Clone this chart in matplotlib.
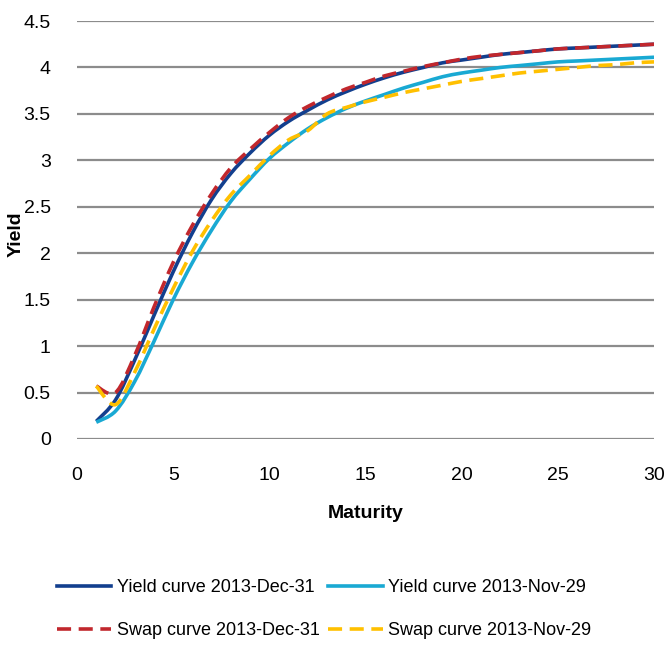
import matplotlib
matplotlib.use("Agg")
import matplotlib.pyplot as plt
import numpy as np
from matplotlib.path import Path
from matplotlib.patches import PathPatch
from matplotlib.lines import Line2D

maturity = list(range(1, 31))
yield_dec = [0.19, 0.42, 0.85, 1.33, 1.80, 2.22, 2.58, 2.86, 3.08, 3.27,
             3.42, 3.54, 3.65, 3.74, 3.82, 3.89, 3.95, 4.00, 4.05, 4.08,
             4.11, 4.14, 4.16, 4.18, 4.20, 4.21, 4.22, 4.23, 4.24, 4.25]
yield_nov = [0.18, 0.30, 0.62, 1.05, 1.50, 1.90, 2.25, 2.56, 2.80, 3.02,
             3.19, 3.34, 3.46, 3.56, 3.64, 3.71, 3.78, 3.84, 3.90, 3.94,
             3.97, 4.00, 4.02, 4.04, 4.06, 4.07, 4.08, 4.09, 4.10, 4.11]
swap_dec = [0.57, 0.50, 0.90, 1.42, 1.90, 2.30, 2.64, 2.92, 3.12, 3.30,
            3.46, 3.58, 3.68, 3.77, 3.84, 3.91, 3.96, 4.01, 4.05, 4.09,
            4.12, 4.14, 4.16, 4.18, 4.20, 4.21, 4.22, 4.23, 4.24, 4.25]
swap_nov = [0.57, 0.37, 0.72, 1.18, 1.62, 2.02, 2.35, 2.63, 2.84, 3.05,
            3.22, 3.32, 3.50, 3.57, 3.63, 3.68, 3.73, 3.77, 3.81, 3.85,
            3.88, 3.91, 3.94, 3.96, 3.98, 4.00, 4.02, 4.03, 4.05, 4.06]

labels = ["Yield curve 2013-Dec-31", "Yield curve 2013-Nov-29",
          "Swap curve 2013-Dec-31", "Swap curve 2013-Nov-29"]
x_ticks = [0, 5, 10, 15, 20, 25, 30]
y_ticks = [0, 0.5, 1, 1.5, 2, 2.5, 3, 3.5, 4, 4.5]
y_tick_labels = ["0", "0.5", "1", "1.5", "2", "2.5", "3", "3.5", "4", "4.5"]

plt.rcParams['font.family'] = ['Liberation Sans', 'DejaVu Sans']

fig = plt.figure(figsize=(6.64, 6.49), dpi=100)
ax = fig.add_axes([0.116, 0.3236, 0.869, 0.644])


def smooth_path(xs, ys):
    """Excel-like smoothed line: cubic Bezier segments through the data points."""
    p = np.column_stack([xs, ys]).astype(float)
    n = len(p)
    verts = [p[0]]
    codes = [Path.MOVETO]
    for i in range(n - 1):
        p0 = p[i - 1] if i > 0 else p[i]
        p1 = p[i]
        p2 = p[i + 1]
        p3 = p[i + 2] if i + 2 < n else p[i + 1]
        c1 = p1 + (p2 - p0) / 6.0
        c2 = p2 - (p3 - p1) / 6.0
        verts += [c1, c2, p2]
        codes += [Path.CURVE4] * 3
    return Path(verts, codes)


series = [
    (yield_dec, '#123F8E', '-', 3),
    (yield_nov, '#19A9D3', '-', 3),
    (swap_dec, '#C1272D', (0, (3.9, 2.1)), 4),
    (swap_nov, '#FFC000', (0, (3.9, 2.1)), 4),
]
handles = []
for (vals, col, ls, z), lab in zip(series, labels):
    patch = PathPatch(smooth_path(maturity, vals), fill=False, edgecolor=col,
                      lw=2.6, linestyle=ls, zorder=z, capstyle='butt',
                      joinstyle='round')
    ax.add_patch(patch)
    handles.append(Line2D([], [], color=col, lw=2.6, linestyle=ls, label=lab))

ax.set_xlim(0, 30)
ax.set_ylim(0, 4.5)
ax.set_xticks(x_ticks)
ax.set_yticks(y_ticks)
ax.set_yticklabels(y_tick_labels)
ax.tick_params(axis='both', length=0, labelsize=14)
ax.tick_params(axis='y', pad=19)
ax.tick_params(axis='x', pad=20)
ax.yaxis.grid(True, color='#8C8C8C', lw=1.6)
ax.set_axisbelow(True)
for s in ax.spines.values():
    s.set_visible(False)

ax.set_xlabel("Maturity", fontsize=14, fontweight='bold')
ax.set_ylabel("Yield", fontsize=14, fontweight='bold')
ax.xaxis.label.set_va('center')
ax.xaxis.set_label_coords(0.5, -0.178)
ax.yaxis.label.set_va('center')
ax.yaxis.set_label_coords(-0.106, 0.49)

order = [0, 2, 1, 3]
fig.legend([handles[i] for i in order], [labels[i] for i in order], ncol=2,
           loc='center left', bbox_to_anchor=(57 / 664, 0.0616),
           frameon=False, fontsize=13, handlelength=3.0, handletextpad=0.3,
           columnspacing=0.5, labelspacing=1.45, borderpad=0, borderaxespad=0)

fig.savefig("out.png", dpi=100)
